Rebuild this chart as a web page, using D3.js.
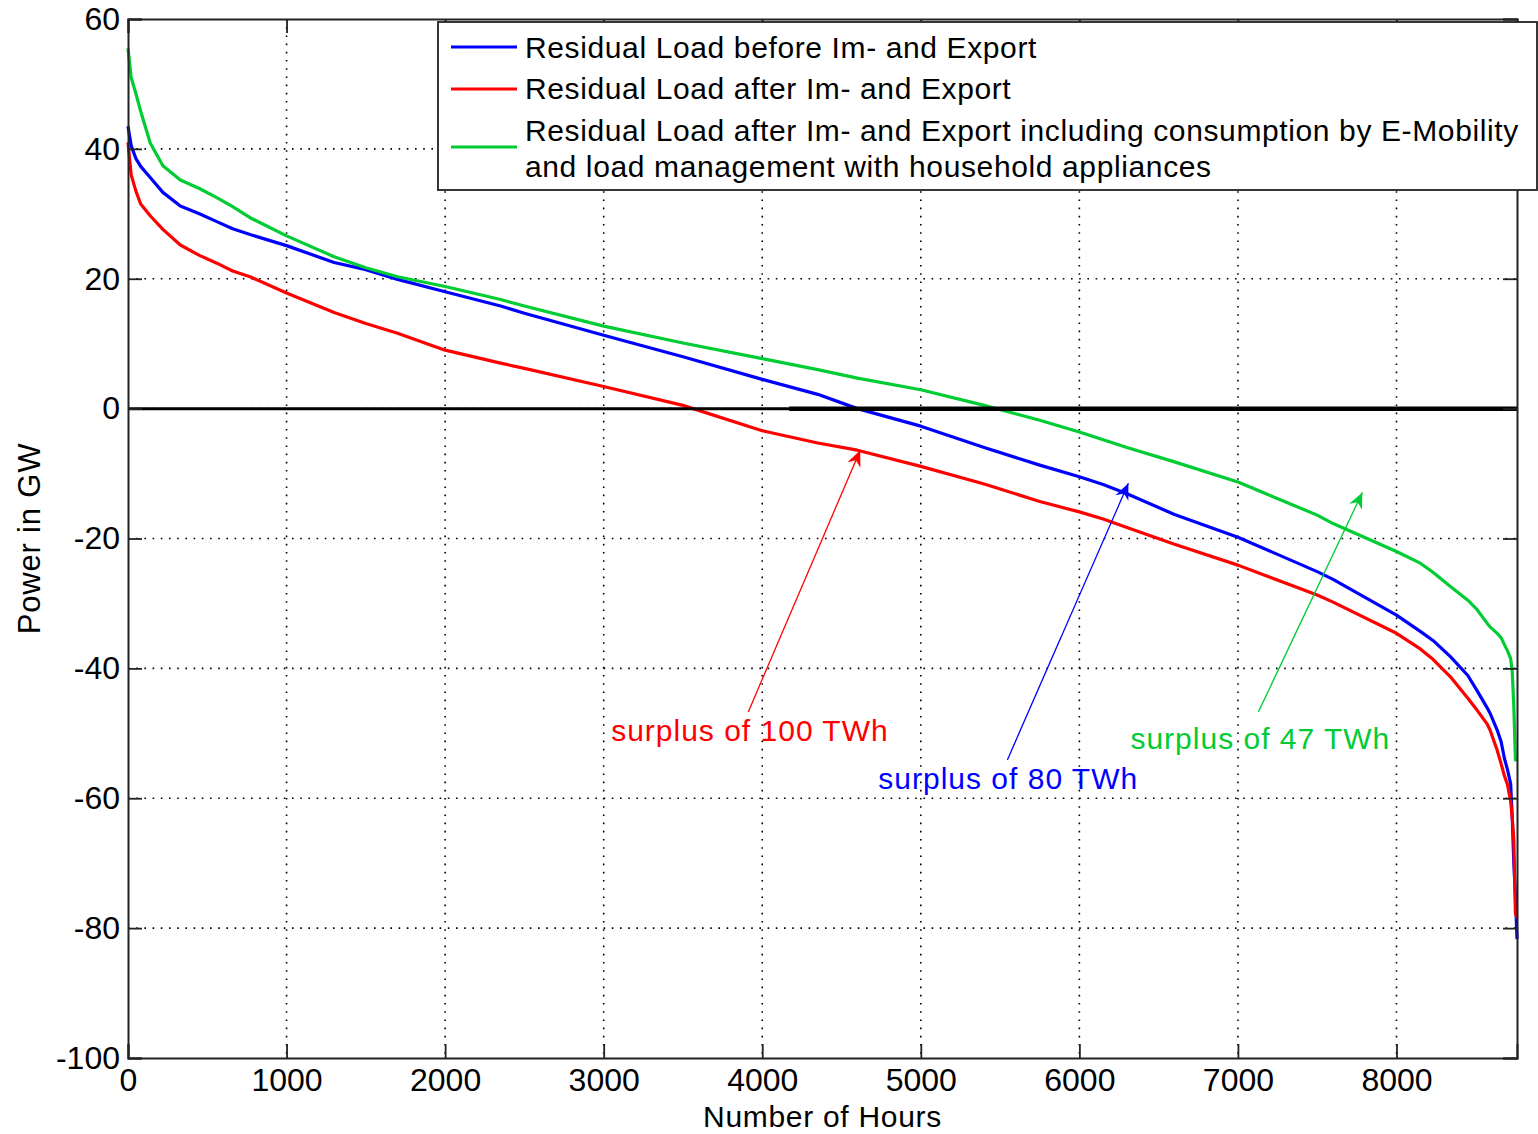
<!DOCTYPE html>
<html>
<head>
<meta charset="utf-8">
<script src="https://cdn.jsdelivr.net/npm/d3@7"></script>
<style>
  html, body { margin: 0; padding: 0; background: #fff; }
  svg { display: block; font-family: "Liberation Sans", Arial, Helvetica, sans-serif; }
</style>
</head>
<body>
<svg id="chart" width="1538" height="1134"></svg>
<script>
// ---------- data ----------
const hours = [0, 20, 50, 80, 140, 220, 330, 450, 560, 660, 770, 1000, 1300, 1500, 1700, 2000, 2350, 2500, 3000, 3500, 4000, 4350, 4600, 5000, 5400, 5750, 6000, 6150, 6300, 6600, 7000, 7500, 7600, 8000, 8150, 8230, 8340, 8450, 8510, 8570, 8590, 8635, 8660, 8680, 8700, 8720, 8730, 8740, 8750, 8760];
const residualBefore = [43.5, 40.5, 38.5, 37.3, 35.6, 33.3, 31.2, 30.0, 28.8, 27.7, 26.8, 25.1, 22.5, 21.4, 19.9, 18.0, 15.8, 14.7, 11.3, 8.0, 4.5, 2.2, 0.0, -2.7, -6.0, -8.7, -10.5, -11.7, -13.1, -16.3, -19.8, -25.1, -26.3, -31.8, -34.3, -35.7, -38.2, -41.1, -43.5, -46.0, -46.9, -49.5, -51.3, -53.8, -55.6, -57.8, -63.0, -70.0, -75.0, -81.7];
const residualAfter = [41.0, 36.0, 33.5, 31.5, 29.7, 27.6, 25.2, 23.6, 22.4, 21.2, 20.3, 17.8, 14.8, 13.1, 11.6, 9.0, 7.0, 6.2, 3.4, 0.5, -3.4, -5.3, -6.4, -8.9, -11.6, -14.3, -15.9, -17.0, -18.3, -20.9, -24.1, -28.7, -29.8, -34.6, -37.0, -38.6, -41.3, -44.6, -46.5, -48.5, -49.5, -52.6, -54.7, -56.5, -57.9, -60.5, -63.0, -66.5, -77.7, -78.5];
const residualEMobility = [55.5, 51.0, 48.5, 45.8, 40.9, 37.4, 35.2, 33.9, 32.5, 31.1, 29.4, 26.6, 23.4, 21.7, 20.3, 18.8, 16.8, 15.8, 12.7, 10.1, 7.7, 6.0, 4.7, 2.9, 0.5, -1.8, -3.6, -4.8, -6.0, -8.2, -11.3, -16.4, -17.7, -22.0, -23.8, -25.2, -27.4, -29.5, -31.0, -33.0, -33.6, -34.6, -35.3, -36.3, -37.3, -38.5, -40.5, -45.9, -54.1, -54.1];

const seriesNames = [
  ["Residual Load before Im- and Export"],
  ["Residual Load after Im- and Export"],
  ["Residual Load after Im- and Export including consumption by E-Mobility", "and load management with household appliances"]
];
const xTicks = [0, 1000, 2000, 3000, 4000, 5000, 6000, 7000, 8000];
const yTicks = [60, 40, 20, 0, -20, -40, -60, -80, -100];
const xLabel = "Number of Hours";
const yLabel = "Power in GW";

// annotations: text, text anchor (hours, GW), arrow tail, arrow head
const annoTexts = ["surplus of 100 TWh", "surplus of 80 TWh", "surplus of 47 TWh"];
const annoTextPos = [[3047, -51.2], [4732, -58.6], [6322, -52.4]];
const annoTail = [[3912, -46.7], [5546, -54.1], [7129, -46.7]];
const annoHead = [[4618, -6.4], [6309, -11.5], [7785, -12.9]];

// ---------- styling ----------
const colors = ["#0000ff", "#ff0000", "#00cc33"];
const svg = d3.select("#chart");
const L = 128, R = 1517, T = 19, B = 1058;
const x = d3.scaleLinear().domain([0, 8760]).range([L, R]);
const y = d3.scaleLinear().domain([-100, 60]).range([B, T]);

// grid
const grid = svg.append("g");
xTicks.slice(1).forEach(t => {
  grid.append("line").attr("x1", x(t)).attr("x2", x(t)).attr("y1", T).attr("y2", B)
    .attr("stroke", "#000").attr("stroke-width", 1.6).attr("stroke-dasharray", "1.6,6.6");
});
yTicks.filter(t => t !== 60 && t !== -100).forEach(t => {
  grid.append("line").attr("x1", L).attr("x2", R).attr("y1", y(t)).attr("y2", y(t))
    .attr("stroke", "#000").attr("stroke-width", 1.6).attr("stroke-dasharray", "1.6,6.6");
});

// data lines
const line = d3.line().x((d, i) => x(hours[i])).y(d => y(d));
[residualBefore, residualAfter, residualEMobility].forEach((vals, i) => {
  svg.append("path").attr("d", line(vals)).attr("fill", "none")
    .attr("stroke", colors[i]).attr("stroke-width", 3.2).attr("stroke-linejoin", "round");
});

// zero line
svg.append("line").attr("x1", x(0)).attr("x2", x(8760)).attr("y1", y(0)).attr("y2", y(0))
  .attr("stroke", "#000").attr("stroke-width", 3);
svg.append("line").attr("x1", x(4170)).attr("x2", x(8760)).attr("y1", y(0)).attr("y2", y(0))
  .attr("stroke", "#000").attr("stroke-width", 4.5);

// axes with inward ticks (MATLAB style)
const tickLen = 14;
const fmt = d => String(d);
const axisG = svg.append("g");
const xAxisB = d3.axisBottom(x).tickValues(xTicks).tickSize(-tickLen).tickPadding(10).tickFormat(fmt);
const xAxisT = d3.axisTop(x).tickValues(xTicks).tickSize(-tickLen).tickFormat("");
const yAxisL = d3.axisLeft(y).tickValues(yTicks).tickSize(-tickLen).tickPadding(8).tickFormat(fmt);
const yAxisR = d3.axisRight(y).tickValues(yTicks).tickSize(-tickLen).tickFormat("");
axisG.append("g").attr("transform", `translate(0,${B})`).call(xAxisB);
axisG.append("g").attr("transform", `translate(0,${T})`).call(xAxisT);
axisG.append("g").attr("transform", `translate(${L},0)`).call(yAxisL);
axisG.append("g").attr("transform", `translate(${R},0)`).call(yAxisR);
axisG.selectAll(".domain").attr("stroke", "#222").attr("stroke-width", 2);
axisG.selectAll(".tick line").attr("stroke", "#222").attr("stroke-width", 1.8);
axisG.selectAll(".tick text").attr("font-size", 32).attr("fill", "#000")
  .attr("font-family", "'Liberation Sans', Arial, sans-serif");

// axis titles
svg.append("text").attr("x", (L + R) / 2).attr("y", 1127).attr("text-anchor", "middle")
  .attr("font-size", 30).attr("letter-spacing", 0.7).text(xLabel);
svg.append("text").attr("transform", `translate(40,${(T + B) / 2}) rotate(-90)`)
  .attr("text-anchor", "middle").attr("font-size", 31).attr("letter-spacing", 0.8).text(yLabel);

// annotations
annoTexts.forEach((t, i) => {
  const c = colors[[1, 0, 2][i]];
  const [hx, hy] = annoHead[i], [tx, ty] = annoTail[i];
  const x1 = x(tx), y1 = y(ty), x2 = x(hx), y2 = y(hy);
  svg.append("line").attr("x1", x1).attr("y1", y1).attr("x2", x2).attr("y2", y2)
    .attr("stroke", c).attr("stroke-width", 1.3);
  const ang = Math.atan2(y2 - y1, x2 - x1);
  const len = 16, w = 7, back = 11;
  const ux = Math.cos(ang), uy = Math.sin(ang), px = -uy, py = ux;
  const pts = [
    [x2, y2],
    [x2 - ux * len + px * w, y2 - uy * len + py * w],
    [x2 - ux * back, y2 - uy * back],
    [x2 - ux * len - px * w, y2 - uy * len - py * w]
  ];
  svg.append("polygon").attr("points", pts.map(p => p.join(",")).join(" ")).attr("fill", c);
  svg.append("text").attr("x", x(annoTextPos[i][0])).attr("y", y(annoTextPos[i][1]))
    .attr("font-size", 30).attr("letter-spacing", 1).attr("fill", c).text(t);
});

// legend
const lg = svg.append("g");
lg.append("rect").attr("x", 438).attr("y", 22).attr("width", 1099).attr("height", 168)
  .attr("fill", "#fff").attr("stroke", "#222").attr("stroke-width", 1.8);
const rowY = [[58], [99], [141, 177]];
const sampleY = [47, 89, 147];
seriesNames.forEach((lines, i) => {
  lg.append("line").attr("x1", 451).attr("x2", 517).attr("y1", sampleY[i]).attr("y2", sampleY[i])
    .attr("stroke", colors[i]).attr("stroke-width", 3);
  lines.forEach((s, j) => {
    lg.append("text").attr("x", 525).attr("y", rowY[i][j]).attr("font-size", 30)
      .attr("letter-spacing", 0.62).text(s);
  });
});
</script>
</body>
</html>
